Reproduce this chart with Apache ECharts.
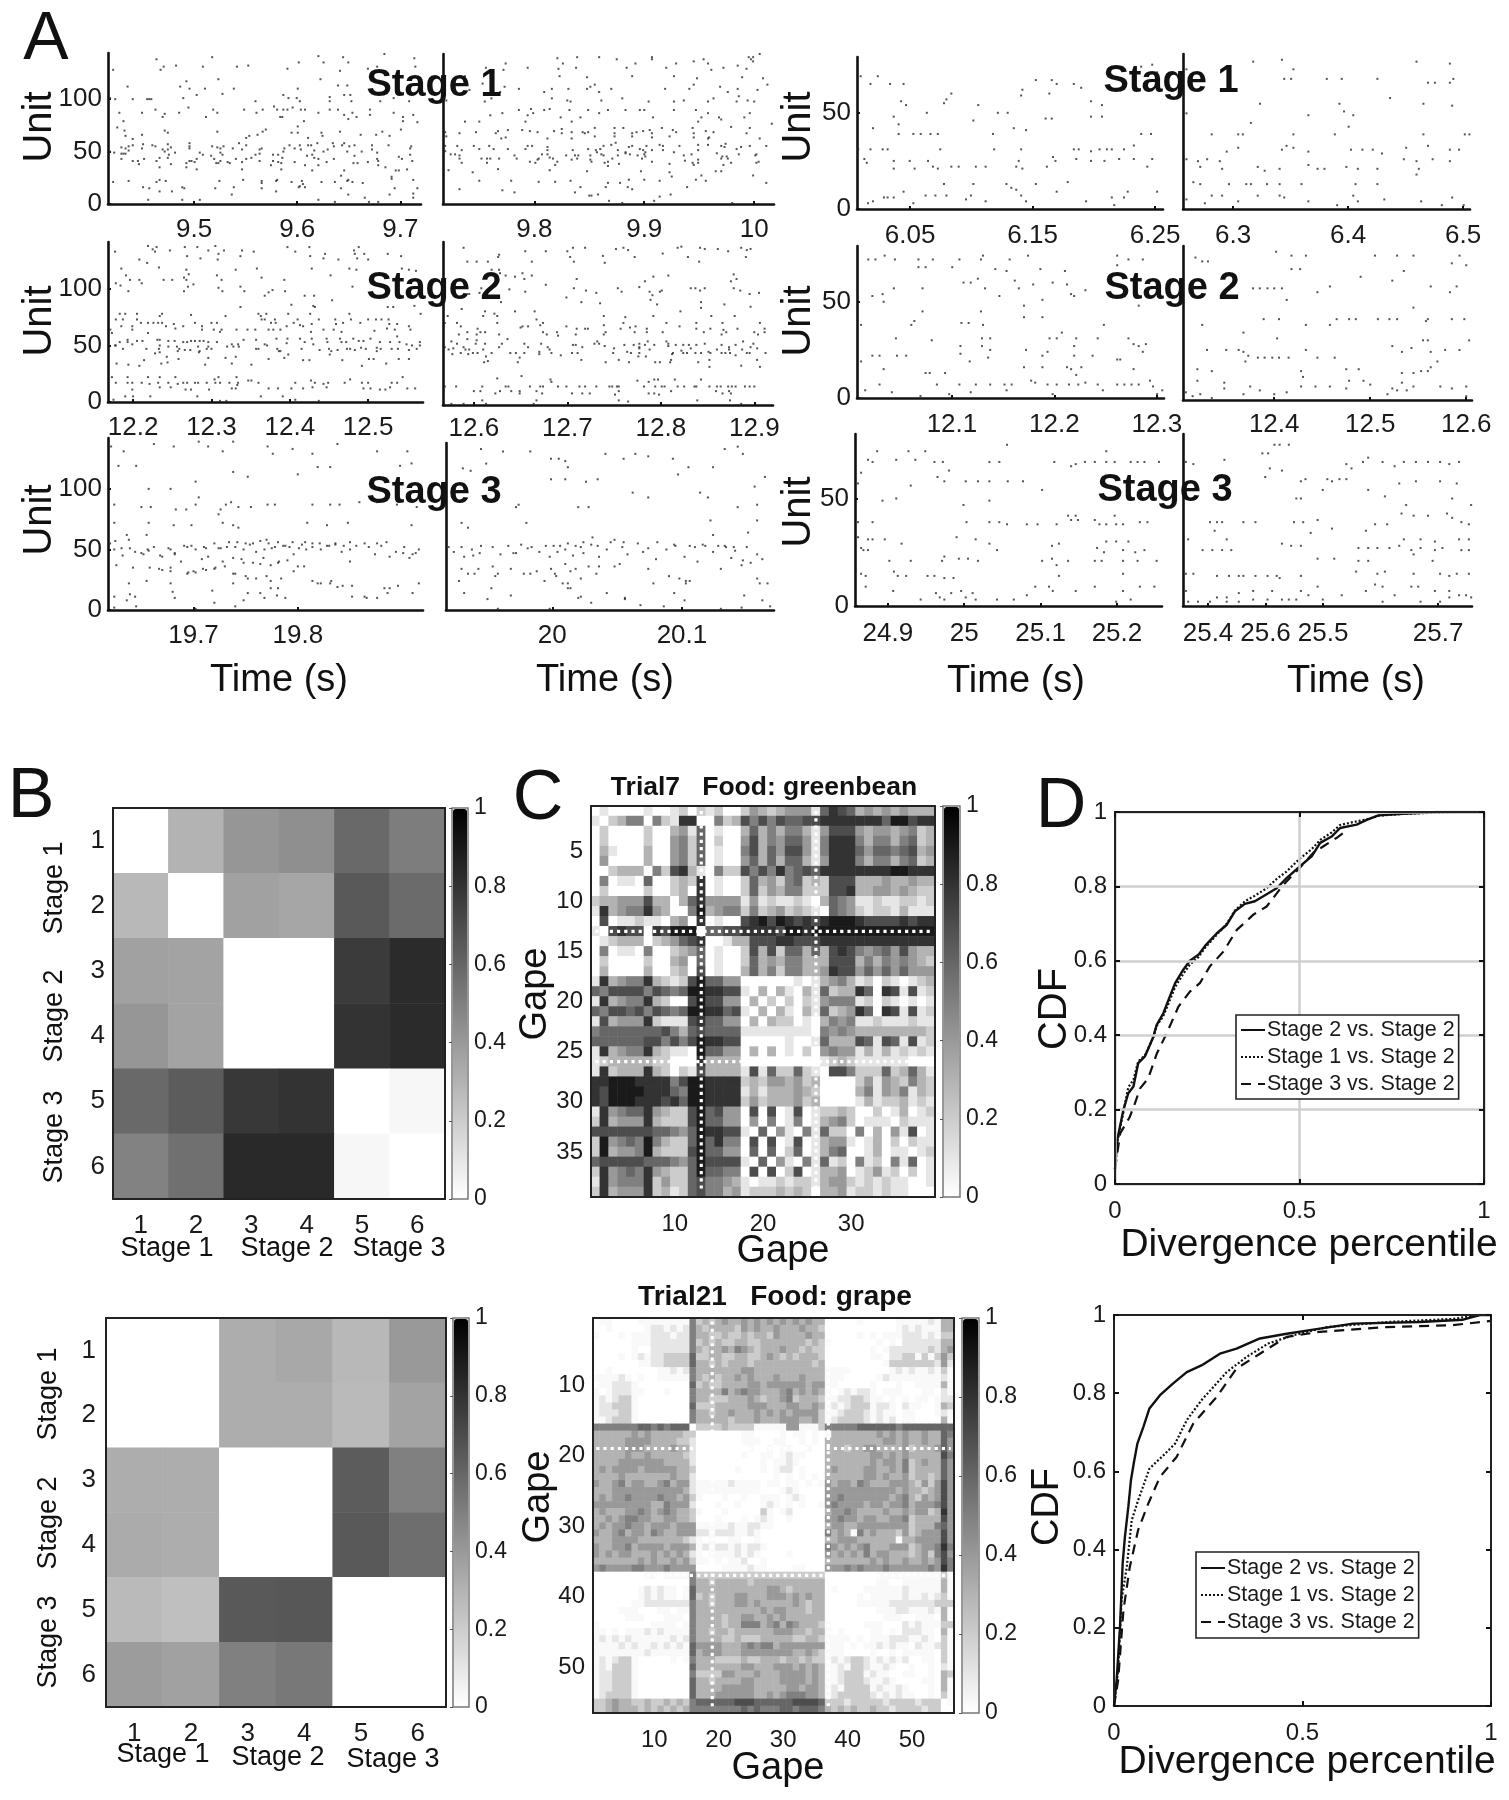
<!DOCTYPE html>
<html><head><meta charset="utf-8"><title>Neural stages figure</title>
<script src="https://cdn.jsdelivr.net/npm/echarts@6/dist/echarts.min.js"></script>
<style>html,body{margin:0;background:#fff}#c{width:1509px;height:1800px}</style></head>
<body><div id="c"></div><script>
// ---------- Panel A: spikes as flat pairs (ms after the panel's first time, unit)
const s1a=[47,138,101,140,204,141,228,140,268,143,297,139,5,128,51,128,54,131,66,132,92,131,125,131,136,132,174,129,185,135,209,135,233,135,225,127,252,129,261,131,298,131,19,112,76,117,107,119,206,119,70,112,79,110,94,110,122,110,184,110,223,113,232,113,2,101,7,100,24,100,38,100,40,100,42,100,86,104,111,105,73,101,170,104,175,101,183,101,186,98,143,98,215,102,215,98,229,104,235,104,236,98,264,98,292,98,277,101,78,92,46,90,33,87,11,87,69,87,102,90,106,87,132,90,144,87,150,90,161,93,164,90,170,90,174,90,179,92,187,90,191,90,204,87,215,90,223,90,229,85,237,87,241,83,254,90,254,85,277,87,286,83,296,85,53,83,55,86,95,83,167,83,169,83,233,81,286,79,300,78,190,79,15,79,9,73,16,70,17,65,55,70,58,68,106,69,153,71,150,69,145,66,184,74,178,68,184,68,207,68,208,65,225,69,245,66,260,66,266,69,273,65,284,71,137,65,134,63,24,62,33,66,194,63,127,58,134,56,149,53,203,58,218,58,229,58,2,50,6,49,13,54,17,53,20,55,24,56,20,51,13,48,15,48,17,48,34,57,33,53,43,56,46,55,58,57,53,52,58,52,61,54,65,49,59,47,55,50,50,44,47,41,24,41,29,41,30,38,35,43,13,43,58,44,61,38,50,35,79,58,79,55,79,53,89,49,92,47,76,39,79,41,81,41,84,40,86,43,76,35,86,33,101,55,106,54,109,53,112,55,109,49,111,47,100,46,103,43,109,41,105,39,107,39,116,40,118,39,121,53,124,43,130,52,134,43,139,44,143,47,147,48,147,52,130,40,147,41,130,33,160,47,165,47,160,41,165,40,169,44,158,37,168,39,168,33,171,53,176,56,181,53,186,56,194,56,197,56,187,52,170,50,181,40,193,46,198,47,200,51,200,44,204,37,191,37,198,32,213,52,209,50,204,43,219,55,212,40,219,43,227,56,234,55,239,56,232,50,246,50,239,46,238,39,242,39,252,40,256,56,256,52,261,49,261,43,262,41,262,37,272,56,269,35,282,45,285,43,295,41,293,47,293,53,294,55,279,32,282,32,290,33,5,21,20,22,34,16,40,15,50,23,47,21,56,22,50,12,62,12,72,16,74,15,39,4,72,4,89,4,104,15,108,22,122,16,120,9,131,23,149,22,149,20,149,15,163,22,164,23,163,12,178,21,185,16,186,17,188,22,189,19,191,16,204,4,207,21,220,21,226,27,229,32,232,22,233,23,237,21,226,15,233,9,247,20,249,6,273,9,275,26,275,24,278,15,296,23,300,15,296,10,296,6,220,2,253,2,262,2];
const s1b=[57,133,39,129,55,127,77,129,104,138,109,133,105,128,121,129,122,139,142,139,158,137,167,129,175,133,190,139,190,137,203,129,212,133,228,135,237,137,241,133,244,127,255,129,268,131,276,128,278,139,280,137,282,139,282,135,288,142,106,121,131,120,172,121,210,121,231,119,272,120,291,119,20,121,36,114,56,111,69,109,52,106,24,108,92,106,99,109,114,109,131,109,134,111,138,113,153,109,142,106,202,109,224,109,228,113,252,111,259,106,268,109,286,108,295,113,3,98,38,97,44,100,99,100,113,98,116,97,144,98,163,100,187,97,210,97,219,98,246,100,241,97,267,97,269,102,277,98,283,97,69,89,80,90,54,86,82,86,92,89,97,90,43,84,77,84,115,89,132,89,142,86,150,89,166,89,179,89,183,89,210,89,230,89,241,86,279,86,107,82,125,82,191,82,235,82,251,82,274,82,253,80,20,78,33,78,75,78,117,78,232,78,299,76,2,68,15,67,30,68,50,69,48,67,59,70,72,70,79,69,86,68,101,69,108,71,108,67,117,68,127,68,129,67,132,68,138,72,156,72,164,72,156,67,172,67,176,68,182,69,188,70,190,67,199,72,209,70,212,68,227,72,228,67,239,69,246,68,262,73,276,67,279,72,3,64,57,63,53,62,95,62,117,62,138,64,156,64,172,64,190,63,206,64,228,63,242,63,241,62,288,62,157,58,153,56,146,55,169,54,172,55,185,55,197,56,200,55,215,55,232,56,232,51,241,56,257,57,253,55,256,54,271,54,279,55,294,55,267,52,2,55,2,50,13,55,17,51,28,55,33,52,42,55,46,52,59,52,77,55,81,55,75,52,95,54,95,51,118,51,132,52,139,51,140,49,143,52,159,51,166,49,179,52,182,51,184,49,190,51,200,51,7,47,11,47,15,46,15,43,17,39,35,43,40,39,40,43,43,43,51,43,65,46,67,43,79,40,84,39,86,42,87,43,90,47,95,47,97,44,100,43,104,40,102,37,112,46,117,42,120,46,123,46,122,43,134,46,134,42,135,40,144,47,146,46,147,39,150,40,154,43,150,36,160,38,159,46,166,48,170,47,177,46,181,43,183,47,184,45,190,40,210,49,219,46,220,41,226,47,227,39,228,37,232,42,232,39,249,48,254,45,253,43,258,45,259,43,262,39,255,37,269,47,284,46,285,47,287,40,285,39,5,32,27,30,50,33,97,32,131,31,180,31,206,38,206,30,208,26,248,31,253,31,282,27,33,22,62,22,87,21,102,21,116,22,150,20,161,20,169,23,183,23,197,22,230,23,235,27,239,22,294,20,15,14,54,13,65,11,120,11,125,16,148,16,168,16,172,14,222,16,133,8,135,8,141,9,197,7,207,9,151,3,163,1,192,3,263,1];
const s2a=[51,138,57,135,60,133,62,137,79,134,98,137,114,137,128,134,137,138,148,134,141,131,101,129,118,127,140,126,9,133,169,129,171,134,186,133,229,137,239,133,257,137,258,129,277,131,275,127,294,126,314,134,315,131,320,137,318,127,327,131,332,126,357,131,374,129,40,126,50,123,17,118,65,119,100,117,163,117,190,118,260,118,308,118,317,117,375,118,384,117,393,116,23,112,28,108,40,108,43,105,10,105,16,103,26,98,71,108,82,108,100,108,103,113,97,110,139,112,145,108,141,101,146,98,109,104,102,102,97,98,169,102,174,98,196,110,225,108,284,112,312,102,210,99,205,97,200,94,226,98,251,94,263,94,286,90,234,86,262,85,264,84,169,84,357,84,364,84,391,85,15,78,22,78,37,78,69,78,66,76,106,77,150,76,192,78,202,78,195,76,230,78,258,78,308,78,399,78,10,73,19,73,17,67,31,67,31,64,37,73,42,70,51,70,58,70,64,70,69,70,74,67,84,69,86,65,96,67,111,70,120,67,120,64,132,70,139,70,135,64,145,64,143,62,164,64,178,64,188,64,196,73,200,73,208,70,213,73,214,70,211,64,205,64,220,64,228,67,237,70,242,73,245,68,249,67,260,69,259,62,269,73,275,64,290,73,291,69,288,64,298,62,300,70,310,73,322,70,332,73,342,73,349,73,340,63,358,73,359,69,369,69,356,65,366,64,384,67,386,64,5,61,3,64,51,61,369,58,215,56,189,55,9,50,10,50,15,53,25,55,25,53,31,51,37,54,44,54,19,47,49,47,63,55,66,55,77,54,85,54,96,53,101,53,106,54,111,54,117,54,122,54,128,53,139,53,66,50,65,47,77,49,88,49,91,47,98,46,105,46,115,49,117,45,128,49,132,47,126,47,152,49,158,51,160,49,166,51,167,49,173,55,189,47,192,47,200,51,203,50,216,47,220,45,228,52,229,56,247,47,245,56,251,53,260,56,262,51,270,46,279,56,280,53,282,47,285,45,293,46,296,56,298,53,304,53,305,47,313,56,309,47,315,46,320,54,326,54,323,48,329,47,335,56,347,53,343,48,348,47,343,45,360,53,362,47,370,47,372,53,381,51,384,46,388,50,398,50,394,47,398,53,60,43,66,44,89,45,116,44,283,42,218,45,230,42,75,40,46,37,90,38,128,39,150,39,163,40,11,34,26,33,40,32,68,34,76,35,124,33,158,34,183,33,205,38,225,39,249,37,257,37,299,37,324,32,333,38,339,38,355,34,371,38,384,38,5,22,25,22,51,22,66,22,86,22,136,20,141,22,164,22,179,19,183,19,309,20,376,22,10,17,25,17,31,17,43,17,53,16,64,17,77,17,66,13,80,13,89,16,96,17,101,17,111,17,115,17,126,17,137,17,143,17,155,17,166,17,165,15,158,12,163,12,192,17,205,12,217,12,239,17,234,12,259,19,264,17,249,12,261,13,275,16,281,17,279,13,302,17,324,17,332,17,326,12,335,12,362,17,369,17,360,13,347,11,354,11,382,12,392,12,31,11,99,11,106,11,129,11,22,5,32,5,54,5,114,5,195,5,223,5,7,2,143,1,151,1,239,2,269,1];
const s2b=[22,136,26,124,36,124,48,124,59,128,60,130,88,133,95,124,110,133,133,133,139,136,136,128,140,124,152,136,171,129,173,123,185,135,193,136,198,134,205,128,235,131,251,136,255,137,262,128,274,124,275,136,280,135,294,135,305,133,319,136,325,134,329,135,324,128,52,117,60,117,61,114,67,112,77,111,85,114,87,109,95,112,110,104,143,109,140,101,153,99,164,97,187,101,191,98,216,107,225,111,210,102,221,98,224,95,234,99,232,98,241,112,265,101,270,101,275,99,280,101,308,107,311,113,314,109,311,101,318,99,328,96,338,97,88,98,71,100,39,97,41,101,28,96,62,89,20,83,132,93,148,89,168,88,222,91,229,87,276,89,276,84,301,87,329,85,45,81,43,77,55,79,58,77,77,81,98,81,100,74,5,77,172,77,195,76,225,77,254,81,287,77,312,77,15,71,58,71,107,71,104,69,193,71,239,71,271,71,299,71,339,71,2,71,172,69,19,68,37,66,83,67,85,68,91,68,132,68,143,66,152,66,155,66,190,66,200,67,206,68,218,66,218,63,253,68,271,66,286,66,300,65,303,63,315,66,344,66,344,63,333,63,26,63,17,61,36,61,45,63,40,63,60,61,107,63,111,61,122,63,123,60,142,61,174,63,172,61,205,63,235,63,279,63,298,61,337,61,26,57,69,57,36,56,9,55,35,53,15,53,45,53,63,53,87,53,91,50,105,53,139,52,142,52,149,50,162,53,165,55,167,53,173,51,194,52,204,52,210,53,219,55,216,52,226,52,239,55,241,53,249,52,257,52,263,52,271,52,280,53,298,52,306,50,313,52,321,55,332,53,329,50,2,50,6,48,11,49,22,50,24,48,28,48,60,50,43,48,112,50,114,48,183,49,210,50,210,49,221,48,241,51,255,47,265,49,293,48,306,48,320,48,336,49,10,44,19,45,27,44,32,45,37,45,52,45,46,42,72,45,78,45,87,45,82,41,103,46,103,44,116,45,126,43,138,45,144,45,182,45,197,46,201,45,210,45,209,42,217,42,246,45,245,44,257,45,261,45,270,45,276,45,284,46,286,45,298,45,302,45,307,45,313,43,325,45,328,45,345,45,48,38,44,37,80,37,148,39,174,37,188,39,199,37,227,37,232,37,243,37,244,39,273,37,285,39,285,33,336,39,319,34,339,33,84,25,58,23,115,22,116,20,208,21,220,20,226,22,230,22,248,22,276,22,2,16,14,16,42,16,67,16,70,16,93,16,104,16,107,16,123,16,132,16,146,16,152,16,164,16,178,16,181,16,186,16,188,16,215,16,227,16,234,16,237,16,251,16,258,16,269,16,271,16,285,16,293,16,297,16,305,16,309,16,313,16,323,16,328,16,333,16,33,12,40,12,61,12,56,10,73,12,82,12,82,10,100,12,106,10,138,10,149,10,157,10,188,12,184,9,220,10,226,10,231,9,244,12,292,12,299,10,306,12,308,10,42,4,100,4,188,4,198,3,272,4,307,4,9,1,22,1,46,1,97,1,319,1];
const s3a=[3,135,15,131,10,119,27,119,44,137,63,135,87,139,96,135,110,131,120,139,153,135,158,129,177,133,196,129,220,137,258,131,287,131,291,121,280,119,84,106,87,93,201,118,213,118,182,112,134,110,120,114,60,100,39,100,6,87,32,85,41,85,65,83,75,83,84,87,108,83,113,87,118,89,125,85,137,85,153,87,160,87,196,87,213,87,222,87,241,89,258,89,277,87,296,85,106,79,110,72,120,70,6,72,39,72,63,70,80,70,191,72,210,70,230,72,291,70,37,62,125,68,18,62,2,55,6,50,14,45,20,58,26,48,34,46,38,50,44,52,52,44,60,50,64,46,76,52,84,50,92,52,96,44,106,51,114,52,122,52,130,50,136,54,142,48,150,50,154,55,160,52,168,53,174,52,178,46,186,54,190,50,196,52,204,50,212,53,218,54,224,48,232,50,238,53,250,52,256,46,262,53,270,44,276,48,284,52,292,46,298,50,70,40,90,42,110,40,128,42,146,38,164,40,188,36,232,40,8,37,24,35,40,35,52,33,60,35,76,30,84,31,94,33,102,34,112,36,122,30,132,28,142,26,152,28,166,26,178,32,196,24,214,24,20,22,26,11,18,8,60,22,62,15,64,10,100,16,102,6,120,22,130,8,134,14,146,14,150,10,156,18,162,12,170,10,204,22,220,19,234,20,248,10,258,10,268,14,278,20,292,14,298,22,6,2,84,1,122,3,7,57,13,51,21,51,32,47,39,49,50,45,58,51,64,47,73,53,80,53,94,51,102,55,108,51,116,56,124,56,132,55,139,55,146,57,152,58,157,51,163,56,170,53,177,56,183,51,189,56,196,55,203,55,210,53,218,55,226,53,232,56,246,55,258,55,267,56,283,47,289,43,295,47,120,43,130,39,139,39,149,43,156,37,163,39,172,41,182,36,120,30,134,26,156,24,163,18,201,22,213,22,225,20,234,11,246,11,265,18,270,18,6,11,21,13,27,3,37,24,49,34,60,32,77,31,82,32,91,34,103,35];
const s3b=[13,117,19,115,27,133,31,121,44,131,65,131,81,125,87,125,92,123,94,118,81,108,92,108,108,106,117,108,123,129,137,125,146,129,156,127,175,125,179,112,187,118,206,118,215,133,225,135,229,129,246,110,56,87,102,85,110,85,144,97,156,93,196,97,202,93,225,85,240,87,238,102,54,85,12,72,17,68,62,72,204,74,206,62,240,74,233,64,2,52,6,48,14,44,20,50,26,47,36,52,42,46,52,47,58,54,66,52,72,48,80,44,86,48,92,50,98,45,104,52,106,47,112,54,118,44,124,50,130,58,136,52,140,46,152,48,162,42,170,50,176,54,184,44,192,52,198,54,206,48,216,52,220,43,222,52,232,52,240,46,244,42,194,40,118,36,12,34,22,30,36,36,38,28,50,34,60,30,70,32,84,30,92,38,96,32,100,34,104,26,110,36,116,30,130,36,134,38,156,34,172,28,180,26,188,24,212,34,228,37,240,26,248,22,10,24,14,14,32,9,50,12,76,24,90,22,96,18,102,10,112,6,124,14,138,10,150,4,176,14,184,8,230,12,244,8,250,3,40,1,80,1,168,3,212,1,228,2,12,52,21,45,27,53,48,53,54,47,63,51,77,53,83,53,88,53,94,55,100,53,106,56,113,60,117,53,127,56,137,56,148,55,156,51,163,56,177,53,188,53,200,53,210,53,215,53,223,49,229,41,235,39,40,30,65,30,81,34,85,28,94,22,104,11,138,9,160,22,185,24,185,22,242,22,94,18,25,34,17,30,35,18];
const s1c=[3,69,11,65,17,69,27,65,38,65,36,56,40,54,30,48,34,44,34,39,13,42,46,39,52,39,60,39,66,39,57,50,71,55,73,57,77,60,95,46,99,54,111,39,115,50,123,50,134,59,135,62,128,42,138,41,146,67,159,67,163,65,177,65,183,63,191,56,154,47,159,47,157,60,191,48,200,48,200,54,232,39,240,39,232,74,241,75,245,71,1,31,11,31,21,31,25,31,68,31,112,31,134,31,177,31,181,31,191,30,198,31,204,31,208,31,218,31,226,33,6,26,8,24,30,25,30,21,43,25,47,21,58,25,62,22,66,21,77,22,83,22,97,22,105,22,132,25,130,22,135,21,155,22,160,27,162,25,179,26,191,25,202,25,214,26,226,26,237,22,241,26,9,3,13,4,22,6,25,6,30,6,38,9,46,3,56,7,64,7,73,7,71,13,89,5,93,7,95,13,105,4,122,13,126,11,130,10,134,7,138,4,146,13,163,9,172,14,187,4,208,6,210,2,218,6,221,9,245,9];
const s1d=[3,73,61,77,86,78,88,68,94,68,96,73,125,68,138,68,169,68,203,77,213,66,219,66,232,76,232,66,235,68,3,50,67,55,109,49,136,55,140,51,148,49,144,43,180,58,209,55,234,54,59,45,25,39,48,39,52,39,96,39,132,39,209,39,245,39,249,39,48,32,38,30,86,31,90,33,96,32,109,30,146,31,156,31,165,31,173,29,194,32,213,33,232,31,240,31,3,26,13,25,21,26,32,25,15,22,34,21,65,22,71,20,84,21,109,23,117,21,123,21,142,22,152,21,169,21,192,26,203,25,203,18,217,26,232,25,205,21,9,14,15,13,40,13,55,13,59,13,73,13,84,13,103,13,150,13,169,13,3,5,19,3,25,7,34,7,48,4,65,7,84,7,88,6,109,4,134,2,148,7,152,4,175,5,207,4,225,2,234,6,244,2];
const s2c=[11,72,18,72,27,74,37,72,60,72,67,68,74,72,60,68,93,68,100,72,123,74,121,72,135,67,149,72,154,61,167,74,179,67,203,66,254,74,254,69,265,72,279,72,104,60,111,60,118,62,125,57,139,53,146,66,158,57,172,59,181,51,191,60,205,59,209,54,212,53,223,56,15,53,25,54,26,50,36,57,64,57,64,45,163,48,163,42,181,42,121,45,275,48,4,38,53,38,56,40,102,39,109,39,123,38,241,38,38,31,73,30,130,31,122,31,101,27,101,23,122,27,130,25,165,25,186,24,188,31,195,31,200,34,214,31,212,27,212,22,235,31,265,31,270,28,275,27,279,24,282,28,15,22,22,22,39,22,48,22,128,21,110,19,181,22,230,22,254,20,257,20,4,19,26,15,163,16,181,16,205,16,214,12,219,16,209,15,270,15,67,13,71,13,86,13,78,7,22,7,100,7,116,7,130,7,144,7,146,4,151,7,170,9,174,8,186,7,195,7,207,7,216,7,223,8,235,7,240,4,254,7,261,7,268,7,275,7,286,9,289,6,8,4,34,3,62,1,90,2,111,3,191,2,293,2,298,4];
const s2d=[13,74,20,72,26,72,97,77,113,75,128,75,113,68,122,68,200,75,223,75,240,75,230,67,280,71,288,75,295,70,185,64,218,62,258,59,285,59,278,56,73,58,80,58,88,58,95,58,103,58,108,52,140,56,153,59,20,55,240,48,20,39,84,42,100,42,128,39,153,39,160,42,173,42,180,42,203,42,215,42,223,42,255,42,253,41,280,42,293,42,63,35,98,32,250,31,255,31,298,31,218,28,228,25,238,27,258,25,273,26,288,26,25,26,45,26,58,26,63,25,68,23,65,20,78,22,85,22,93,22,100,22,110,22,128,26,140,22,158,22,265,20,258,17,15,16,30,15,123,15,125,12,170,16,183,16,228,14,240,14,248,15,255,15,15,10,43,9,43,6,70,7,80,5,95,3,108,4,123,7,138,7,153,7,173,10,170,6,188,10,195,8,218,6,223,5,228,9,233,5,240,7,268,7,280,6,295,7,3,4,10,2,18,3,30,1,63,3,213,3,295,2];
const s3c=[29,72,17,68,23,67,8,62,4,57,54,68,70,72,79,68,92,72,104,67,115,67,123,63,108,60,117,58,145,58,161,58,176,58,176,67,189,67,199,75,200,58,220,58,245,54,261,67,283,65,289,66,301,67,314,67,329,72,329,67,340,67,361,67,370,67,379,67,398,67,73,56,36,49,54,50,142,47,176,49,4,39,23,39,146,39,176,39,189,39,199,38,225,38,239,38,264,38,279,42,289,42,283,40,292,40,314,40,320,38,329,38,340,42,342,38,351,38,373,39,383,39,4,32,17,31,23,31,39,31,61,29,133,32,158,31,176,29,186,26,258,28,267,29,329,30,342,30,358,30,317,27,326,25,351,26,367,25,379,26,8,27,11,26,17,26,45,21,73,21,114,21,117,23,136,22,148,22,161,21,245,21,258,22,264,19,279,21,314,21,323,21,351,21,370,21,395,21,8,15,14,14,51,16,56,14,67,14,95,14,104,14,117,13,129,13,267,14,351,15,14,9,50,7,106,6,111,4,117,3,126,6,139,7,145,4,154,6,158,3,186,3,208,3,225,5,236,9,254,9,259,7,289,7,314,9,351,7,361,3,373,9,392,9,86,3,342,2];
const s3d=[5,67,18,66,72,68,138,71,148,71,151,64,159,75,168,75,172,63,143,60,184,75,284,66,293,64,313,67,322,69,347,67,368,65,384,67,405,67,426,67,447,67,463,66,480,67,205,58,213,59,251,59,259,58,272,59,284,59,243,54,205,50,197,50,322,54,351,51,376,57,405,58,447,58,476,57,468,50,501,47,388,47,47,39,59,39,68,39,55,35,105,39,126,39,193,39,209,39,234,40,222,34,259,36,318,35,334,38,355,38,380,43,401,42,426,42,459,43,468,41,484,39,497,38,9,31,76,31,172,29,188,28,205,28,305,27,322,27,338,27,359,27,376,28,384,31,413,31,438,30,480,31,497,31,34,26,51,26,68,26,84,26,234,22,263,22,305,21,322,21,397,26,401,24,413,27,438,26,434,21,451,27,484,26,497,26,5,15,18,15,59,14,80,14,97,14,105,14,126,14,147,14,163,14,168,13,205,14,301,16,338,15,351,16,401,15,447,15,463,14,476,15,497,15,5,7,76,4,97,6,122,7,155,7,205,7,234,9,318,7,334,10,347,9,368,5,397,9,409,9,438,7,463,7,501,4,9,2,26,2,47,2,59,4,76,2,97,2,122,3,147,3,172,3,184,3,197,3,218,5,243,3,276,5,347,2,413,2,447,2,463,4,480,5,492,5];

// ---------- Panel A: axis ticks
const ticks1a=[9.5,9.6,9.7],ticks1b=[9.8,9.9,10],ticks2a=[12.2,12.3,12.4,12.5],ticks2b=[12.6,12.7,12.8,12.9];
const ticks3a=[19.7,19.8],ticks3b=[20,20.1],ticks1c=[6.05,6.15,6.25],ticks1d=[6.3,6.4,6.5];
const ticks2c=[12.1,12.2,12.3],ticks2d=[12.4,12.5,12.6],ticks3c=[24.9,25,25.1,25.2],ticks3d=[25.3,25.4,25.5,25.7];
const labels3d=['25.4','25.6','25.5','25.7']; // printed this way in the source figure

// ---------- Panel B
const stageMatrixTop=[
[0,.30,.41,.44,.59,.51],
[.28,0,.37,.35,.65,.58],
[.37,.36,0,0,.77,.83],
[.41,.36,0,0,.80,.83],
[.59,.64,.78,.80,0,.03],
[.49,.56,.84,.84,.03,0]];
const stageMatrixBottom=[
[0,0,.32,.34,.28,.40],
[0,0,.32,.32,.27,.36],
[.32,.32,0,0,.64,.50],
[.33,.32,0,0,.65,.57],
[.27,.25,.65,.66,0,0],
[.39,.37,.50,.53,0,0]];

// ---------- Panel C: each character is one cell: 0 white, a faint, 1-9 tenths
const gapesTrial7=[
"01000 01001 20212 00243 23444 16876 34343 4333",
"10235 50521 88005 23757 57667 78888 88869 9788",
"02000 02003 41601 00363 53553 14777 43443 4523",
"02000 02004 52602 00473 54664 15888 53553 5623",
"03100 03004 52601 00573 64774 15888 64665 6734",
"04000 03004 52601 00463 63663 14888 53553 5623",
"00233 30527 83105 22757 58567 68888 88889 9888",
"05011 06002 32801 00263 42562 32777 33343 3433",
"02000 02002 30801 00262 43552 22778 33443 4322",
"23344 47330 36844 44141 21121 03654 11211 2212",
"18345 58430 05934 55252 34232 10654 21221 3111",
"07011 21103 40801 00789 79878 78999 87777 8788",
"10787 70879 99066 77888 87998 99999 99999 9999",
"01233 30234 67800 13377 78877 78888 88888 8888",
"05011 05002 34601 00273 72663 63787 54564 7433",
"02000 02003 40601 00263 43553 33777 35354 5432",
"03000 03002 30701 00363 52553 34877 46464 6444",
"18345 58321 27966 44000 00010 13453 12021 0123",
"65777 75765 69988 77103 03103 16233 86087 1712",
"18345 58320 07977 44030 20202 14555 12021 0101",
"65776 75765 69988 67103 03103 16234 86087 1712",
"17344 48211 17866 44030 32201 03545 11211 1211",
"56666 66675 36766 66111 11111 05454 33333 3332",
"66666 67757 57988 77000 00100 16333 76176 1712",
"18345 58321 10966 44030 30102 04544 13131 2121",
"12333 33220 00833 33000 00000 01232 11111 1000",
"18233 38320 21733 33171 62262 10775 22262 3631",
"88999 88885 79988 88232 44342 30000 24143 2532",
"87999 98886 59988 88131 33343 20000 35143 5132",
"87999 88878 69988 88242 33342 30000 13122 3121",
"18456 68432 27967 44070 70170 12232 00201 3012",
"28344 48322 27966 44040 50150 13452 01110 2111",
"77777 77665 46988 77106 04105 16220 50304 1701",
"29456 59532 26968 55070 70170 13441 01302 0211",
"29344 59322 27966 44060 60260 13560 01301 1012",
"67777 76665 46977 77106 04105 16120 51205 1601",
"28456 58432 26966 55070 70270 13340 12412 0201",
"18455 58242 26755 43101 12122 13442 12121 1001",
"28344 48231 26755 34122 23232 03341 22121 1000"];
const gapesTrial21=[
"0aa00 00aaa aaaaa 5 23234 33434 34343 43433 00000a 00000a aaaa1a 33",
"00a00 000a1 1a1a1 5 32333 32434 33433 34332 000000 00000a 1a1aaa 33",
"a000a 0aaa1 11a11 5 33223 22323 32433 33433 00000a 0a0aaa 111a1a 22",
"00000 0aaa1 11111 5 23232 23322 33333 33232 a00000 00a0a0 111111 33",
"00000 0a001 11111 5 32334 35432 33343 32322 000000 0a0a11 111121 34",
"0000a 0a1a1 12222 6 22332 23322 34323 23332 000000 0aa011 22a2a2 42",
"00000 00aa1 12222 6 33232 33323 33333 33323 000000 000a22 222221 41",
"00a00 00000 aa1a1 5 33333 33443 33333 33333 aaaa00 0000a1 a1aa1a 2a",
"aaaa1 a0a00 aaaaa 5 32323 34343 33433 34333 aaa000 00a1aa aaaaaa 1a",
"0aa11 1a000 00000 6 23223 33344 34444 44344 aa0000 0a000a 00aaaa 3a",
"a0a11 1aa00 0a000 5 33335 34544 33345 34343 a0a1a1 1a0aaa 000aa0 1a",
"a1a12 2a000 00000 5 33222 33343 23345 23332 aa1122 1aa0a0 a0aa0a 11",
"a1122 2a000 00000 6 22233 33344 43334 43343 a1a122 2a11a0 1aa00a 32",
"a1112 2a000 00000 5 33233 43334 34343 44442 aa1222 1a1aa0 aa000a 1a",
"aa122 2a000 00000 5 33333 23334 33344 43342 a12222 1a1a10 aa0000 3a",
"55555 55665 65666 0 22223 2222a aaaa4 4aaa2 555556 666665 666666 66",
"33333 34343 33332 2 00000 00aa0 000a0 aa0a0 a33333 334343 433433 65",
"33333 44443 33322 1 00000 00aaa 00aa0 0a0a0 333333 333443 433433 64",
"33333 44433 33433 1 00000 000a0 0a0aa 00a00 333233 443333 423334 64",
"33333 43343 33332 1 00000 00a00 aa0a1 aa000 333333 344343 433333 75",
"33334 44444 43333 1 00000 00000 a0aa1 a0000 333333 343443 523433 64",
"34344 44344 44433 2 00000 0a000 a0a11 0a000 343333 443343 523333 64",
"33334 33333 33433 1 00000 00000 00a0a 0a0a0 333333 443433 423323 64",
"43345 34433 45344 1 aaaaa 1aaaa 0aa0a a0a0a 434435 433344 432424 74",
"33344 44444 44443 1 aaaaa aaaaa 000a1 a0000 444444 444443 433234 74",
"34344 54444 54434 2 a000a 00a00 aaa0a 1a000 445444 444434 532434 74",
"44444 44443 35444 1 000a0 0a000 a1a0a 0a00a 454444 344344 534445 74",
"34333 44543 45433 2 a000a 00000 2a0a1 00000 344543 333433 434423 84",
"33434 55443 34433 2 000a0 00a0a 1a00a 00000 445443 443344 523333 74",
"34344 54434 44344 4 aaaaa 1aa11 aa000 00000 344334 444444 423335 64",
"43345 34435 43344 4 11a11 1aa1a 00000 00000 5343a5 343332 423444 74",
"33344 44333 33332 1 a0a00 aa00a 00000 00000 334443 33333a 334444 74",
"43344 53444 43444 3 a1a11 a1a11 a0000 00000 543434 533344 423445 85",
"43434 43334 34343 1 a0aaa a1a1a 0000a 00000 434343 534433 323425 74",
"33333 33434 33434 2 aa0a0 aa100 a0000 00000 333333 343433 433434 75",
"45444 45544 45444 4 0000a aaa1a a0000 aa000 444545 444544 444454 85",
"00000 000aa 0aaaa 5 22222 22222 22222 22222 000000 00aaaa aaaaaa 2a",
"00000 00000 00000 5 33233 33323 33333 33333 000000 00aa00 aaaaaa 3a",
"00000 00a1a 1aa0a 6 33333 33333 34432 33333 0a0000 aaaaaa 1aaaaa 3a",
"00000 00a1a 1aa0a 6 23233 34433 34443 43433 00000a 0aaaaa 1aa1a1 2a",
"00000 0aa11 11111 5 33233 34434 33333 43233 00000a aaaa11 111112 22",
"0000a aa000 aa0aa 5 33333 33333 43443 33233 000000 00aaa1 1aaa1a 3a",
"00000 aaa00 0aaa0 5 33332 33443 34343 33333 000000 000aaa 00aaa0 3a",
"a0000 0000a aaa0a 5 33332 33555 34535 43332 a00000 aaa000 1a1aaa 22",
"aa0a0 aaa1a 1aaaa 5 33233 23333 33444 33233 a0a000 0aa0a0 111aa0 3a",
"a1a1a 1aaaa aa1a1 5 33332 23222 33333 22332 aaaa0a 0aaa11 1aa1a0 2a",
"aaaa1 a1aa1 a1a1a 6 44443 33454 55344 44444 aaa0a0 aa1a1a a01aa1 2a",
"aaaaa aaa1a aaaaa 6 34443 33444 44444 33432 aaa000 0a00a0 aaaaa0 2a",
"a1a12 2a000 00a0a 5 33322 22322 33323 32322 a1a122 1a1a1a 100aa0 2a",
"a1a22 2a000 00000 6 33333 33443 33444 34343 aa1a22 1aa1a0 0a00a0 1a",
"a1122 2a000 00000 5 22224 43334 33344 44343 aa1222 a1aa00 aa00a0 32",
"a1122 2a000 00000 6 33233 33443 33344 44343 aa1222 1aa1a0 000aa0 3a",
"a1122 2a000 00000 6 33334 44443 33334 43443 a1a222 2a1aa1 a000a0 3a",
"a1222 2a000 00000 6 33344 44443 34345 55443 a12222 21a1a1 aa00a0 2a",
"22343 32232 23232 5 66666 67776 66666 77776 222122 222122 221222 0a",
"22343 33232 32323 5 55555 55656 55566 56665 323232 232212 222122 00"];
const markedTrial7=[13,26], markedTrial21=[19,37];
const cTicksY7=[5,10,15,20,25,30,35], cTicksX7=[10,20,30];
const cTicksY21=[10,20,30,40,50], cTicksX21=[10,20,30,40,50];

// ---------- Panel D
const d1Stage2=[[0,.04],[.006,.118],[.023,.2],[.036,.244],[.05,.262],[.063,.325],[.081,.343],[.104,.396],[.113,.428],[.131,.459],[.145,.495],[.163,.54],[.185,.576],[.203,.6],[.226,.616],[.244,.64],[.276,.674],[.303,.697],[.325,.733],[.352,.753],[.379,.76],[.411,.779],[.438,.795],[.465,.822],[.501,.854],[.533,.881],[.556,.917],[.587,.934],[.61,.957],[.655,.966],[.682,.979],[.714,.991],[.781,.995],[.872,1],[1,1]];
const d1Stage1=[[0,.04],[.006,.11],[.02,.18],[.036,.26],[.05,.28],[.063,.33],[.081,.345],[.104,.395],[.113,.425],[.131,.452],[.145,.485],[.163,.53],[.185,.565],[.203,.59],[.226,.61],[.244,.635],[.276,.67],[.303,.7],[.325,.735],[.352,.76],[.379,.775],[.411,.795],[.438,.82],[.465,.84],[.501,.875],[.533,.9],[.556,.925],[.587,.945],[.61,.965],[.655,.975],[.682,.98],[.714,.99],[.781,.995],[.92,1]];
const d1Stage3=[[0,.04],[.014,.136],[.04,.18],[.054,.217],[.068,.257],[.09,.284],[.113,.35],[.14,.405],[.172,.477],[.203,.517],[.23,.54],[.257,.585],[.294,.625],[.33,.683],[.375,.724],[.411,.746],[.456,.804],[.501,.85],[.537,.89],[.565,.908],[.6,.93],[.632,.954]];
const d2Stage2=[[0,0],[.007,.066],[.016,.203],[.023,.365],[.029,.433],[.038,.509],[.045,.578],[.053,.624],[.062,.671],[.078,.714],[.094,.761],[.122,.795],[.157,.825],[.193,.854],[.232,.871],[.281,.901],[.325,.914],[.387,.94],[.458,.952],[.546,.965],[.634,.978],[.811,.982],[.926,.988],[.97,1],[1,1]];
const d2Stage1=[[0,0],[.011,.092],[.02,.271],[.034,.356],[.047,.475],[.064,.526],[.094,.607],[.131,.641],[.162,.671],[.193,.731],[.232,.782],[.299,.854],[.352,.893],[.409,.927],[.475,.948],[.564,.969],[.723,.982],[.899,.99],[.97,1]];
const d2Stage3=[[0,0],[.011,.066],[.025,.245],[.042,.356],[.064,.45],[.091,.518],[.122,.586],[.166,.637],[.21,.722],[.272,.79],[.325,.863],[.387,.901],[.458,.944],[.546,.957],[.723,.969],[.899,.974],[1,.985]];
const legendNames=['Stage 2 vs. Stage 2','Stage 1 vs. Stage 2','Stage 3 vs. Stage 2'];

// ---------- Build
const FONT="'Liberation Sans',Arial,sans-serif", INK='#1a1a1a';
const grids=[],xAxes=[],yAxes=[],series=[],visualMaps=[],graphics=[];
function addGrid(l,t,r,b,extra){grids.push(Object.assign({left:l,top:t,width:r-l,height:b-t,containLabel:false,show:false},extra||{}));return grids.length-1;}
function pairs(flat,t0){const out=[];for(let i=0;i<flat.length;i+=2)out.push([t0+flat[i]/1000,flat[i+1]]);return out;}

const rasters=[
 {r:[108,53,421,204],x:[9.4165,9.72],ym:144,t:ticks1a,s:s1a,yl:1,m:13},
 {r:[443,54,774,204],x:[9.717,10.018],ym:142,t:ticks1b,s:s1b,m:13},
 {r:[108,242,423,402],x:[12.168,12.57],ym:141.5,t:ticks2a,s:s2a,yl:1,m:13},
 {r:[443,242,773,405],x:[12.567,12.92],ym:141,t:ticks2b,s:s2b,m:11},
 {r:[108,438,423,610],x:[19.618,19.92],ym:142,t:ticks3a,s:s3a,yl:1,m:13},
 {r:[446,443,774,610],x:[19.918,20.171],ym:138,t:ticks3b,s:s3b,m:13},
 {r:[857,57,1163,209],x:[6.0067,6.2565],ym:79,t:ticks1c,s:s1c,yl:1,m:14},
 {r:[1183,54,1470,209],x:[6.2565,6.506],ym:81,t:ticks1d,s:s1d,m:14},
 {r:[857,246,1164,398],x:[12.0073,12.307],ym:79,t:ticks2c,s:s2c,yl:1,m:14},
 {r:[1183,246,1472,400],x:[12.305,12.606],ym:80,t:ticks2d,s:s2d,m:12},
 {r:[855,434,1162,606],x:[24.857,25.259],ym:80,t:ticks3c,s:s3c,yl:1,m:15},
 {r:[1183,434,1472,606],x:[25.2565,25.759],ym:80,t:ticks3d,s:s3d,lab:labels3d,m:15}];
rasters.forEach(p=>{
  const g=addGrid(...p.r);
  const line={onZero:false,lineStyle:{color:'#111',width:2.6}};
  xAxes.push({gridIndex:g,type:'value',min:p.x[0],max:p.x[1],axisLine:line,splitLine:{show:false},
    axisTick:{inside:true,length:3,customValues:p.t,lineStyle:{color:'#111',width:2}},
    axisLabel:{customValues:p.t,margin:p.m,showMinLabel:true,showMaxLabel:true,color:INK,fontFamily:FONT,fontSize:26,
      formatter:p.lab?(v=>p.lab[p.t.findIndex(q=>Math.abs(q-v)<1e-6)]):(v=>String(v))}});
  const yt=p.ym>100?[0,50,100]:[0,50];
  yAxes.push({gridIndex:g,type:'value',min:0,max:p.ym,axisLine:line,splitLine:{show:false},
    axisTick:{show:!!p.yl,inside:true,length:3,customValues:yt,lineStyle:{color:'#111',width:2}},
    axisLabel:{show:!!p.yl,customValues:yt,showMinLabel:true,margin:6,color:INK,fontFamily:FONT,fontSize:26,formatter:v=>String(v)}});
  series.push({type:'scatter',xAxisIndex:xAxes.length-1,yAxisIndex:yAxes.length-1,symbol:'rect',symbolSize:2,silent:true,
    itemStyle:{color:'#2a2a2a'},data:pairs(p.s,p.x[0]),animation:false});
});

function cats(n){return Array.from({length:n},(_,i)=>String(i+1));}
function decode(rows){return rows.map(r=>[...r.replace(/ /g,'')].map(c=>c==='0'?0:c==='a'?.025:(+c)/10));}
function heat(rect,matrix,opt){
  const n=matrix.length,g=addGrid(...rect),c=cats(n),showX=v=>opt.xTicks.includes(+v),showY=v=>opt.yTicks.includes(+v);
  const base={gridIndex:g,type:'category',data:c,z:6,splitLine:{show:false},splitArea:{show:false},
    axisLine:{onZero:false,lineStyle:{color:'#222',width:2}}};
  const tickX={inside:true,length:4,alignWithLabel:true,interval:(i,v)=>showX(v),lineStyle:{color:'#222',width:1.5}};
  const tickY={inside:true,length:4,alignWithLabel:true,interval:(i,v)=>showY(v),lineStyle:{color:'#222',width:1.5}};
  xAxes.push(Object.assign({},base,{position:'bottom',axisTick:tickX,axisLabel:{interval:(i,v)=>showX(v),margin:opt.mx,color:INK,fontFamily:FONT,fontSize:opt.fs}}));
  const xi=xAxes.length-1;
  yAxes.push(Object.assign({},base,{position:'left',inverse:true,axisTick:tickY,axisLabel:{interval:(i,v)=>showY(v),margin:opt.my,color:INK,fontFamily:FONT,fontSize:opt.fs}}));
  const yi=yAxes.length-1;
  xAxes.push(Object.assign({},base,{position:'top',axisTick:tickX,axisLabel:{show:false}}));
  yAxes.push(Object.assign({},base,{position:'right',inverse:true,axisTick:tickY,axisLabel:{show:false}}));
  const data=[];matrix.forEach((row,j)=>row.forEach((v,i)=>data.push([i,j,v])));
  series.push({type:'heatmap',xAxisIndex:xi,yAxisIndex:yi,data,silent:true,progressive:0,animation:false,itemStyle:{borderWidth:0},emphasis:{disabled:true}});
  const hi=series.length-1;
  (opt.marked||[]).forEach(m=>{
    const dot={color:'#fff',width:3.2,type:[3.2,4]};
    series.push({type:'line',xAxisIndex:xi,yAxisIndex:yi,symbol:'none',silent:true,z:4,animation:false,lineStyle:dot,data:[[0,m-1],[n-1,m-1]]});
    series.push({type:'line',xAxisIndex:xi,yAxisIndex:yi,symbol:'none',silent:true,z:4,animation:false,lineStyle:dot,data:[[m-1,0],[m-1,n-1]]});
  });
  // colour bar: scale from the visualMap, ticks from a value axis beside it
  const cb=opt.bar,cg=addGrid(cb[0],rect[1],cb[1],rect[3],{show:true,borderColor:'#777',borderWidth:1.5,backgroundColor:'transparent'});
  xAxes.push({gridIndex:cg,type:'value',show:false,min:0,max:1});
  yAxes.push({gridIndex:cg,type:'value',min:0,max:1,interval:.2,position:'right',splitLine:{show:false},
    axisLine:{show:false},axisTick:{inside:true,length:3,lineStyle:{color:'#555'}},
    axisLabel:{margin:6,color:INK,fontFamily:FONT,fontSize:23,formatter:v=>String(+v.toFixed(1))}});
  visualMaps.push({type:'continuous',seriesIndex:hi,dimension:2,min:0,max:1,calculable:false,hoverLink:false,realtime:false,
    left:cb[0]+1,top:rect[1]+1,itemWidth:cb[1]-cb[0]-2,itemHeight:rect[3]-rect[1]-2,padding:0,inRange:{color:['#ffffff','#000000']},text:null,textStyle:{fontSize:0}});
}
heat([113,808,445,1199],stageMatrixTop,{xTicks:[1,2,3,4,5,6],yTicks:[1,2,3,4,5,6],mx:14,my:8,fs:26,bar:[452,468]});
heat([106,1318,446,1707],stageMatrixBottom,{xTicks:[1,2,3,4,5,6],yTicks:[1,2,3,4,5,6],mx:14,my:10,fs:26,bar:[453,469]});
heat([591,806,935,1197],decode(gapesTrial7),{xTicks:cTicksX7,yTicks:cTicksY7,mx:15,my:8,fs:24,bar:[943,960],marked:markedTrial7});
heat([593,1318,954,1713],decode(gapesTrial21),{xTicks:cTicksX21,yTicks:cTicksY21,mx:15,my:8,fs:24,bar:[962,979],marked:markedTrial21});

function cdf(rect,curves,grid){
  const g=addGrid(...rect);
  const ax=(pos,itv,lab,split)=>({gridIndex:g,type:'value',min:0,max:1,interval:itv,position:pos,z:6,
    axisLine:{onZero:false,lineStyle:{color:'#222',width:2}},
    axisTick:{inside:true,length:5,lineStyle:{color:'#111',width:2}},
    splitLine:{show:split,lineStyle:{color:'#cfcfcf',width:2.5}},
    axisLabel:{show:lab,margin:pos==='bottom'?15:8,color:INK,fontFamily:FONT,fontSize:24,formatter:v=>String(+v.toFixed(1))}});
  xAxes.push(ax('bottom',.5,true,grid));const xi=xAxes.length-1;
  yAxes.push(ax('left',.2,true,grid));const yi=yAxes.length-1;
  xAxes.push(ax('top',.5,false,false));yAxes.push(ax('right',.2,false,false));
  const styles=[{color:'#111',width:2.4,type:'solid'},{color:'#111',width:2.2,type:[2,2]},{color:'#111',width:2.2,type:[10,7]}];
  curves.forEach((d,i)=>series.push({type:'line',name:legendNames[i],xAxisIndex:xi,yAxisIndex:yi,symbol:'none',silent:true,animation:false,z:3,lineStyle:styles[i],itemStyle:{color:'#111'},data:d}));
}
cdf([1115,812,1484,1184],[d1Stage2,d1Stage1,d1Stage3],true);
cdf([1114,1315,1491,1706],[d2Stage2,d2Stage1,d2Stage3],false);
const legendBase={orient:'vertical',selectedMode:false,data:legendNames,backgroundColor:'#fff',borderColor:'#222',borderWidth:1.6,itemWidth:24,itemHeight:14,itemGap:5,z:10,
  itemStyle:{color:'transparent',borderColor:'transparent',borderWidth:0,opacity:0},
  textStyle:{fontFamily:FONT,fontSize:21.5,color:INK,padding:[0,0,0,-3]}};
const legends=[Object.assign({},legendBase,{left:1236,top:1015,padding:[4,4,4,4]}),Object.assign({},legendBase,{left:1196,top:1552,padding:[5,4,5,4]})];

function txt(s,x,y,size,bold,rot){const k=size*.05;graphics.push({type:'text',x:x+(rot?k:0),y:y+(rot?0:k),rotation:rot?Math.PI/2:0,z:20,silent:true,style:{text:s,align:'center',verticalAlign:'middle',fill:'#111',font:(bold?'bold ':'')+size+'px '+FONT}});}
[['A',46,37,68],['B',31,794,70],['C',538,796,70],['D',1061,804,70]].forEach(a=>txt(a[0],a[1],a[2],a[3]));
[['Stage 1',434,84],['Stage 2',434,287],['Stage 3',434,491],['Stage 1',1171,80],['Stage 2',1172,287],['Stage 3',1165,489]].forEach(a=>txt(a[0],a[1],a[2],38,true));
[[38,127],[38,321],[38,520],[797,127],[797,321],[797,512]].forEach(a=>txt('Unit',a[0],a[1],40,false,true));
[[279,679],[605,679],[1016,680],[1356,680]].forEach(a=>txt('Time (s)',a[0],a[1],38));
[[167,1247],[287,1247],[399,1247],[163,1753],[278,1756],[393,1758]].forEach((a,i)=>txt('Stage '+(i%3+1),a[0],a[1],27));
[[53,888],[53,1016],[53,1137],[47,1394],[47,1523],[47,1642]].forEach((a,i)=>txt('Stage '+(i%3+1),a[0],a[1],27,false,true));
txt('Trial7   Food: greenbean',764,786,26.5,true);
txt('Trial21   Food: grape',775,1296,28,true);
txt('Gape',783,1250,38);txt('Gape',778,1767,38);
txt('Gape',534,994,38,false,true);txt('Gape',537,1497,38,false,true);
txt('CDF',1053,1009,40,false,true);txt('CDF',1046,1507,38,false,true);
txt('Divergence percentile',1309,1243,39);txt('Divergence percentile',1307,1760,39);

const chart=echarts.init(document.getElementById('c'),null,{renderer:'canvas',width:1509,height:1800});
chart.setOption({animation:false,backgroundColor:'#fff',grid:grids,xAxis:xAxes,yAxis:yAxes,series,visualMap:visualMaps,legend:legends,graphic:{elements:graphics},tooltip:{show:false}});
</script></body></html>
